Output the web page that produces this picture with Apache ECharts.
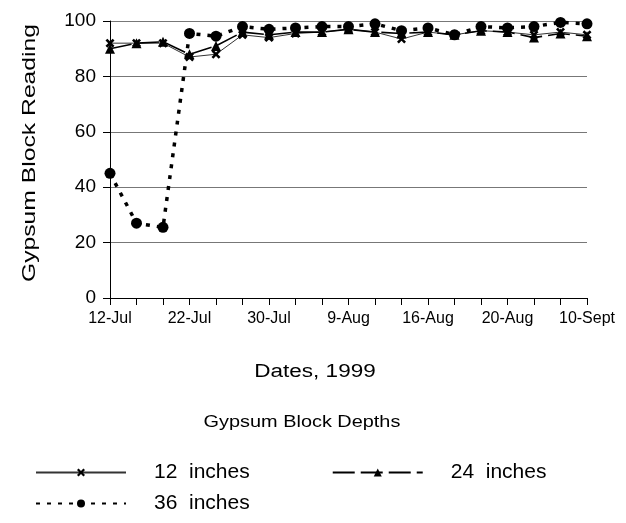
<!DOCTYPE html>
<html>
<head>
<meta charset="utf-8">
<script src="https://cdn.jsdelivr.net/npm/echarts@6/dist/echarts.min.js"></script>
<style>
html,body{margin:0;padding:0;background:#fff;}
#chart{width:626px;height:523px;}
</style>
</head>
<body>
<div id="chart"></div>
<script>
// Tick labels shown on every third date
const dateLabels = ['12-Jul', '22-Jul', '30-Jul', '9-Aug', '16-Aug', '20-Aug', '10-Sept'];
const categories = ['12-Jul','','','22-Jul','','','30-Jul','','','9-Aug','','','16-Aug','','','20-Aug','','','10-Sept'];
const yTicks = [0, 20, 40, 60, 80, 100];

const depth12 = [92, 92, 92, 87, 88, 95, 94, 95.5, 96, 97, 96, 93.5, 96, 95, 96.5, 96, 95, 96, 95];
const depth24 = [90, 92, 92.5, 88, 91, 96, 95, 96, 96, 97, 96, 95.5, 96, 95, 96.5, 96, 94, 95.5, 94.5];
const depth36 = [45, 27, 25.5, 95.5, 94.5, 98, 97, 97.5, 98, 98, 99, 96.5, 97.5, 95, 98, 97.5, 98, 99.5, 99];

const FONT = 'Liberation Sans, Arial, sans-serif';
const xMark = 'path://M0,2 L2,0 L5,3 L8,0 L10,2 L7,5 L10,8 L8,10 L5,7 L2,10 L0,8 L3,5 Z';

const chart = echarts.init(document.getElementById('chart'), null, {renderer: 'canvas'});
chart.setOption({
  animation: false,
  backgroundColor: '#ffffff',
  textStyle: {fontFamily: FONT, color: '#000'},
  grid: {left: 110, right: 39, top: 21, bottom: 225, containLabel: false},
  xAxis: {
    type: 'category',
    data: categories,
    boundaryGap: false,
    axisLine: {lineStyle: {color: '#000', width: 1}},
    axisTick: {show: true, interval: 0, inside: false, length: 7, lineStyle: {color: '#000'}},
    axisLabel: {interval: 0, color: '#000', fontSize: 16, fontFamily: FONT, margin: 13},
    splitLine: {show: false}
  },
  yAxis: {
    type: 'value',
    min: yTicks[0], max: yTicks[yTicks.length - 1], interval: 20,
    axisLine: {show: true, lineStyle: {color: '#000', width: 1}},
    axisTick: {show: true, inside: false, length: 7, lineStyle: {color: '#000'}},
    axisLabel: {color: '#000', fontSize: 19, fontFamily: FONT, margin: 14},
    splitLine: {show: true, lineStyle: {color: '#777', width: 1}}
  },
  legend: [
    {
      data: ['12 inches', '24 inches'],
      left: 30, top: 457,
      itemWidth: 90, itemHeight: 10, itemGap: 82,
      formatter: n => n.replace(' ', '  '),
      textStyle: {fontSize: 21, fontFamily: FONT, color: '#000', padding: [0, 0, 0, 23]}
    },
    {
      data: ['36 inches'],
      left: 30, top: 488,
      itemWidth: 90, itemHeight: 10,
      formatter: n => n.replace(' ', '  '),
      textStyle: {fontSize: 21, fontFamily: FONT, color: '#000', padding: [0, 0, 0, 23]}
    }
  ],
  graphic: [
    {type: 'text', x: 30, y: 153, rotation: Math.PI / 2, scaleX: 1.3,
      style: {text: 'Gypsum Block Reading', font: '19px ' + FONT, fill: '#000', align: 'center', verticalAlign: 'middle'}},
    {type: 'text', x: 315, y: 372, scaleX: 1.25,
      style: {text: 'Dates, 1999', font: '18px ' + FONT, fill: '#000', align: 'center', verticalAlign: 'middle'}},
    {type: 'text', x: 302, y: 422, scaleX: 1.17,
      style: {text: 'Gypsum Block Depths', font: '17px ' + FONT, fill: '#000', align: 'center', verticalAlign: 'middle'}}
  ],
  series: [
    {
      name: '12 inches', type: 'line', data: depth12,
      symbol: xMark, symbolSize: 9,
      lineStyle: {color: '#333', width: 1},
      itemStyle: {color: '#000'},
      z: 3
    },
    {
      name: '24 inches', type: 'line', data: depth24,
      symbol: 'triangle', symbolSize: 10,
      lineStyle: {color: '#000', width: 1.6, type: [22, 6]},
      itemStyle: {color: '#000'},
      z: 4
    },
    {
      name: '36 inches', type: 'line', data: depth36,
      symbol: 'circle', symbolSize: 11,
      lineStyle: {color: '#000', width: 3.5, type: [4, 7], cap: 'butt'},
      itemStyle: {color: '#000'},
      z: 5
    }
  ]
});
</script>
</body>
</html>
